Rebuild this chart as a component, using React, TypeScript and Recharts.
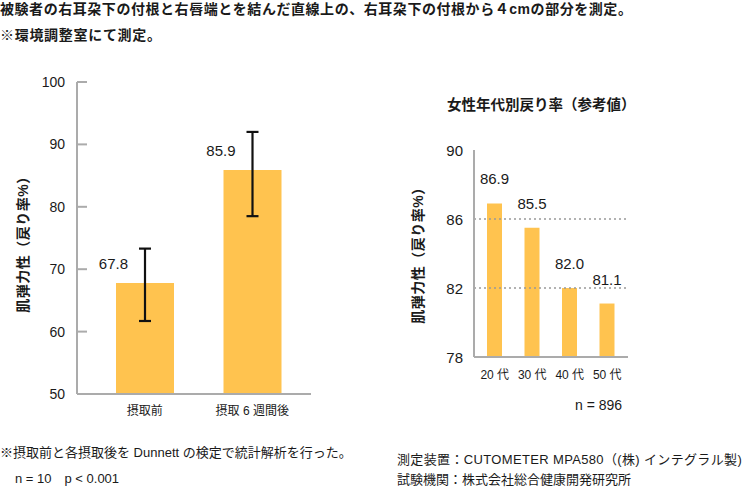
import React from 'react';
import { BarChart, Bar, XAxis, YAxis, ErrorBar, LabelList, ReferenceLine } from 'recharts';

const FONT = "'Liberation Sans', 'Noto Sans CJK JP', sans-serif";
const BAR_COLOR = '#FFC34F';
const AXIS_COLOR = '#ABABAB';
const TEXT_COLOR = '#1a1a1a';

// Left chart data
const leftCategories = ['摂取前', '摂取 6 週間後'];
const leftValues = [67.8, 85.9];
const leftErrLow = [6.1, 7.4];
const leftErrHigh = [5.5, 6.1];
const leftTicks = [50, 60, 70, 80, 90, 100];

// Right chart data
const rightCategories = ['20 代', '30 代', '40 代', '50 代'];
const rightValues = [86.9, 85.5, 82.0, 81.1];
const rightTicks = [78, 82, 86, 90];
const rightGridValues = [82, 86];

const leftData = leftCategories.map((c, i) => ({
  name: c,
  value: leftValues[i],
  err: [leftErrLow[i], leftErrHigh[i]],
}));
const rightData = rightCategories.map((c, i) => ({ name: c, value: rightValues[i] }));

const LeftYTick = (props: any) => {
  const { x, y, payload } = props;
  return (
    <g>
      <line x1={x + 12} x2={x + 22} y1={y} y2={y} stroke={AXIS_COLOR} strokeWidth={2} />
      <text x={x} y={y} textAnchor="end" dominantBaseline="central" fontSize={14} fill={TEXT_COLOR} fontFamily={FONT}>
        {payload.value}
      </text>
    </g>
  );
};

const RightYTick = (props: any) => {
  const { x, y, payload } = props;
  return (
    <text x={x} y={y} textAnchor="end" dominantBaseline="central" fontSize={15} fill={TEXT_COLOR} fontFamily={FONT}>
      {payload.value}
    </text>
  );
};

const LeftValueLabel = (props: any) => {
  const { x, y, width, value } = props;
  return (
    <text x={x + width / 2 - 17} y={y - 14} textAnchor="end" fontSize={15} fill={TEXT_COLOR} fontFamily={FONT}>
      {Number(value).toFixed(1)}
    </text>
  );
};

const RightValueLabel = (props: any) => {
  const { x, y, width, value } = props;
  return (
    <text x={x + width / 2} y={y - 19} textAnchor="middle" fontSize={15} fill={TEXT_COLOR} fontFamily={FONT}>
      {Number(value).toFixed(1)}
    </text>
  );
};

const abs = (left: number, top: number, extra: React.CSSProperties = {}): React.CSSProperties => ({
  position: 'absolute',
  left,
  top,
  whiteSpace: 'nowrap',
  fontFamily: FONT,
  color: TEXT_COLOR,
  ...extra,
});

export default function App() {
  return (
    <div style={{ position: 'absolute', left: 0, top: 0, width: 748, height: 489, background: '#fff', overflow: 'hidden', fontFamily: FONT }}>
      {/* header text */}
      <div style={abs(0, 0, { fontSize: 14, fontWeight: 'bold', lineHeight: '18px', letterSpacing: '0.55px' })}>
        被験者の右耳朶下の付根と右唇端とを結んだ直線上の、右耳朶下の付根から４cmの部分を測定。
      </div>
      <div style={abs(0, 26, { fontSize: 14, fontWeight: 'bold', lineHeight: '18px', letterSpacing: '0.7px' })}>
        ※環境調整室にて測定。
      </div>

      {/* left chart */}
      <div style={{ position: 'absolute', left: 0, top: 60 }}>
        <BarChart width={330} height={360} data={leftData} margin={{ top: 22, right: 19, left: 17, bottom: 0 }}>
          <XAxis
            dataKey="name"
            height={26}
            tickLine={false}
            tickMargin={6}
            axisLine={{ stroke: AXIS_COLOR, strokeWidth: 2 }}
            tick={{ fontSize: 12, fill: TEXT_COLOR, fontFamily: FONT }}
            padding={{ left: 14, right: 5 }}
          />
          <YAxis
            width={60}
            domain={[50, 100]}
            ticks={leftTicks}
            tickSize={0}
            tickMargin={12}
            tickLine={false}
            axisLine={{ stroke: AXIS_COLOR, strokeWidth: 2 }}
            tick={<LeftYTick />}
          />
          <Bar dataKey="value" fill={BAR_COLOR} barSize={58} isAnimationActive={false}>
            <ErrorBar dataKey="err" width={6} strokeWidth={2.2} stroke="#111" direction="y" />
            <LabelList dataKey="value" content={<LeftValueLabel />} />
          </Bar>
        </BarChart>
      </div>
      <div style={abs(23, 241, { fontSize: 14, fontWeight: 'bold', transform: 'translate(-50%, -50%) rotate(-90deg)', lineHeight: '16px', letterSpacing: '0.5px' })}>
        肌弾力性（戻り率%）
      </div>

      {/* right chart */}
      <div style={abs(447, 96, { fontSize: 14.5, fontWeight: 'bold', lineHeight: '18px' })}>
        女性年代別戻り率（参考値）
      </div>
      <div style={{ position: 'absolute', left: 400, top: 90 }}>
        <BarChart width={250} height={330} data={rightData} margin={{ top: 60, right: 22, left: 14, bottom: 33 }}>
          <XAxis
            dataKey="name"
            height={30}
            tickLine={false}
            tickMargin={7}
            axisLine={{ stroke: AXIS_COLOR, strokeWidth: 2 }}
            tick={{ fontSize: 12, fill: TEXT_COLOR, fontFamily: FONT }}
            padding={{ left: 2, right: 2 }}
          />
          <YAxis
            width={60}
            domain={[78, 90]}
            ticks={rightTicks}
            tickSize={0}
            tickMargin={11}
            tickLine={false}
            axisLine={{ stroke: AXIS_COLOR, strokeWidth: 2 }}
            tick={<RightYTick />}
          />
          {rightGridValues.map((v) => (
            <ReferenceLine key={v} y={v} stroke="#999" strokeWidth={1.5} strokeDasharray="2 3" />
          ))}
          <Bar dataKey="value" fill={BAR_COLOR} barSize={15} isAnimationActive={false}>
            <LabelList dataKey="value" content={<RightValueLabel />} />
          </Bar>
        </BarChart>
      </div>
      <div style={abs(418, 252, { fontSize: 14, fontWeight: 'bold', transform: 'translate(-50%, -50%) rotate(-90deg)', lineHeight: '16px', letterSpacing: '0.5px' })}>
        肌弾力性（戻り率%）
      </div>
      <div style={abs(575, 396, { fontSize: 14, lineHeight: '18px' })}>n = 896</div>

      {/* footer text */}
      <div style={abs(0, 444, { fontSize: 13, lineHeight: '18px' })}>
        ※摂取前と各摂取後を Dunnett の検定で統計解析を行った。
      </div>
      <div style={abs(15, 470, { fontSize: 13, lineHeight: '18px' })}>
        n = 10　p &lt; 0.001
      </div>
      <div style={abs(397, 451, { fontSize: 13, lineHeight: '18px', letterSpacing: '0.35px' })}>
        測定装置：CUTOMETER MPA580（(株) インテグラル製)
      </div>
      <div style={abs(397, 471, { fontSize: 13, lineHeight: '18px' })}>
        試験機関：株式会社総合健康開発研究所
      </div>
    </div>
  );
}
